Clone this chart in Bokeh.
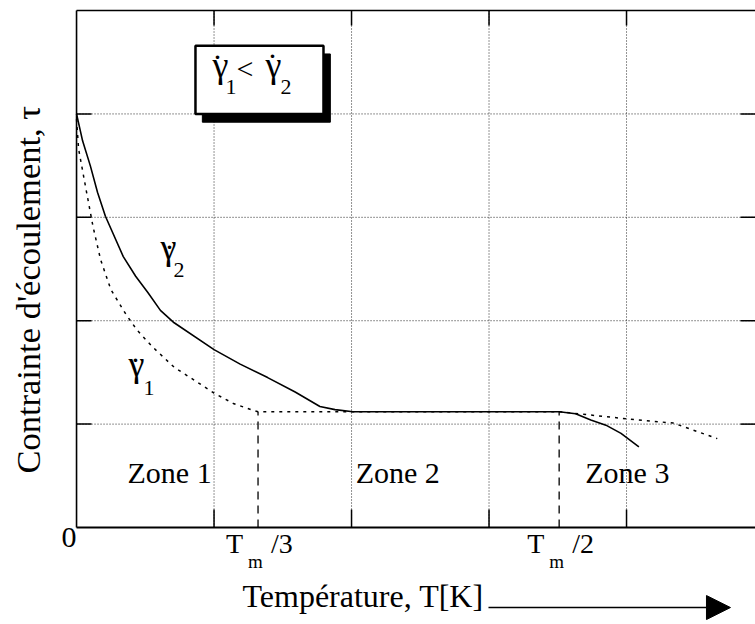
import math
from bokeh.plotting import figure
from bokeh.models import Range1d, Label, Arrow, NormalHead
from bokeh.embed import file_html
from bokeh.resources import INLINE

# ---------------- data (schematic) ----------------
x_grid = [1, 2, 3, 4]
y_grid = [1, 2, 3, 4]
x_max = 4.938
y_max = 5.0

# higher strain rate (solid curve, gamma-dot 2)
t_fast = [0.0, 0.044, 0.10, 0.153, 0.21, 0.34, 0.43, 0.52, 0.61, 0.71, 1.00,
          1.19, 1.39, 1.59, 1.77, 1.88, 2.01, 3.51, 3.63, 3.74, 3.85, 3.96, 4.09]
tau_fast = [4.0, 3.74, 3.50, 3.24, 3.01, 2.62, 2.43, 2.27, 2.10, 1.98, 1.72,
            1.58, 1.45, 1.31, 1.17, 1.14, 1.12, 1.12, 1.10, 1.04, 0.99, 0.91, 0.78]

# lower strain rate (dotted curve, gamma-dot 1)
t_slow = [0.0, 0.015, 0.065, 0.12, 0.175, 0.25, 0.36, 0.44, 0.55, 0.71, 0.85,
          1.00, 1.14, 1.27, 1.32, 3.51, 4.01, 4.34, 4.66]
tau_slow = [3.95, 3.66, 3.30, 2.91, 2.59, 2.30, 2.06, 1.91, 1.75, 1.55, 1.43,
            1.30, 1.20, 1.14, 1.12, 1.12, 1.05, 1.01, 0.86]

# characteristic temperatures T_m/3 and T_m/2
tm_pos = [1.32, 3.51]
tm_frac = ["/3", "/2"]
tm_level = 1.12

zone_names = ["Zone 1", "Zone 2", "Zone 3"]
zone_x = [0.371, 2.03, 3.70]
zone_y = 0.368

x_title = "Température, T[K]"
y_title = "Contrainte d'écoulement, τ"

SERIF = "Liberation Serif"

# ---------------- figure (frame covers the whole canvas) ----------------
p = figure(width=755, height=624, output_backend="svg", toolbar_location=None,
           x_axis_type=None, y_axis_type=None,
           x_range=Range1d(-0.553, x_max), y_range=Range1d(-0.938, 5.097),
           min_border=0, outline_line_color=None,
           background_fill_color="white", border_fill_color="white")

n = len(x_grid)
m = len(y_grid)

# dotted grid
p.segment(x0=x_grid, y0=[0] * n, x1=x_grid, y1=[y_max] * n,
          line_color="black", line_dash="1 2", line_width=1, line_alpha=0.85)
p.segment(x0=[0] * m, y0=y_grid, x1=[x_max] * m, y1=y_grid,
          line_color="black", line_dash="1 2", line_width=1, line_alpha=0.85)

# frame lines (left, bottom, top)
p.segment(x0=[0, 0, 0], y0=[0, 0, y_max], x1=[0, x_max, x_max], y1=[y_max, 0, y_max],
          line_color="black", line_width=[1.6, 2.2, 1.6])

# inward ticks
p.segment(x0=x_grid, y0=[0] * n, x1=x_grid, y1=[0.174] * n, line_color="black", line_width=1.5)
p.segment(x0=x_grid, y0=[y_max] * n, x1=x_grid, y1=[y_max - 0.145] * n,
          line_color="black", line_width=1.5)
p.segment(x0=[0] * m, y0=y_grid, x1=[0.109] * m, y1=y_grid, line_color="black", line_width=1.5)
p.segment(x0=[x_max - 0.109] * m, y0=y_grid, x1=[x_max] * m, y1=y_grid,
          line_color="black", line_width=1.5)

# dashed verticals at T_m/3 and T_m/2
p.segment(x0=tm_pos, y0=[0] * len(tm_pos), x1=tm_pos, y1=[tm_level] * len(tm_pos),
          line_color="black", line_width=1.3, line_dash="8 6")

# curves
p.line(t_slow, tau_slow, line_color="black", line_width=1.5, line_dash="3 5")
p.line(t_fast, tau_fast, line_color="black", line_width=1.6)

# the framed inequality box with its 3D shadow
box_l, box_r, box_b, box_t = 0.865, 1.796, 4.0, 4.66
p.quad(left=[box_l + 0.05], right=[box_r + 0.05], bottom=[box_b - 0.08],
       top=[box_t - 0.08], fill_color="black", line_color="black")
p.quad(left=[box_l], right=[box_r], bottom=[box_b], top=[box_t],
       fill_color="white", line_color="black", line_width=2.5)


def lab(text, x, y, size, **kw):
    l = Label(x=x, y=y, text=text, text_font=SERIF, text_font_size=f"{size}px",
              text_color="black", **kw)
    p.add_layout(l)
    return l


def gamma_dot(x_left, base, x_dot, base_dot, sub, x_sub, base_sub):
    lab("γ", x_left, base, 36)
    lab(".", x_dot, base_dot, 30, text_align="center")
    lab(sub, x_sub, base_sub, 22)


# box text
gamma_dot(0.989, 4.284, 1.025, 4.536, "1", 1.084, 4.197)
lab("<", 1.164, 4.284, 30)
gamma_dot(1.375, 4.284, 1.425, 4.545, "2", 1.484, 4.197)

# curve labels
gamma_dot(0.611, 2.519, 0.676, 2.698, "2", 0.705, 2.427)
gamma_dot(0.378, 1.388, 0.429, 1.605, "1", 0.487, 1.277)

# zones
for name, zx in zip(zone_names, zone_x):
    lab(name, zx, zone_y, 30)

# tick labels
lab("0", 0.0, -0.19, 30, text_align="right")
for xp, fr in zip(tm_pos, tm_frac):
    lab("T", xp, -0.30, 28, x_offset=-32)
    lab("m", xp, -0.435, 19, x_offset=-10)
    lab(fr, xp, -0.30, 28, x_offset=13)

# axis titles
lab(y_title, -0.356, 2.30, 34.5, angle=math.pi / 2, text_align="center",
    text_baseline="middle")
lab(x_title, 1.207, -0.832, 32)
p.add_layout(Arrow(end=NormalHead(size=24, fill_color="black", line_color="black",
                                  line_width=1),
                   x_start=2.996, y_start=-0.774, x_end=4.756, y_end=-0.774,
                   line_color="black", line_width=1.5))

open("out.html", "w").write(file_html(p, INLINE))
